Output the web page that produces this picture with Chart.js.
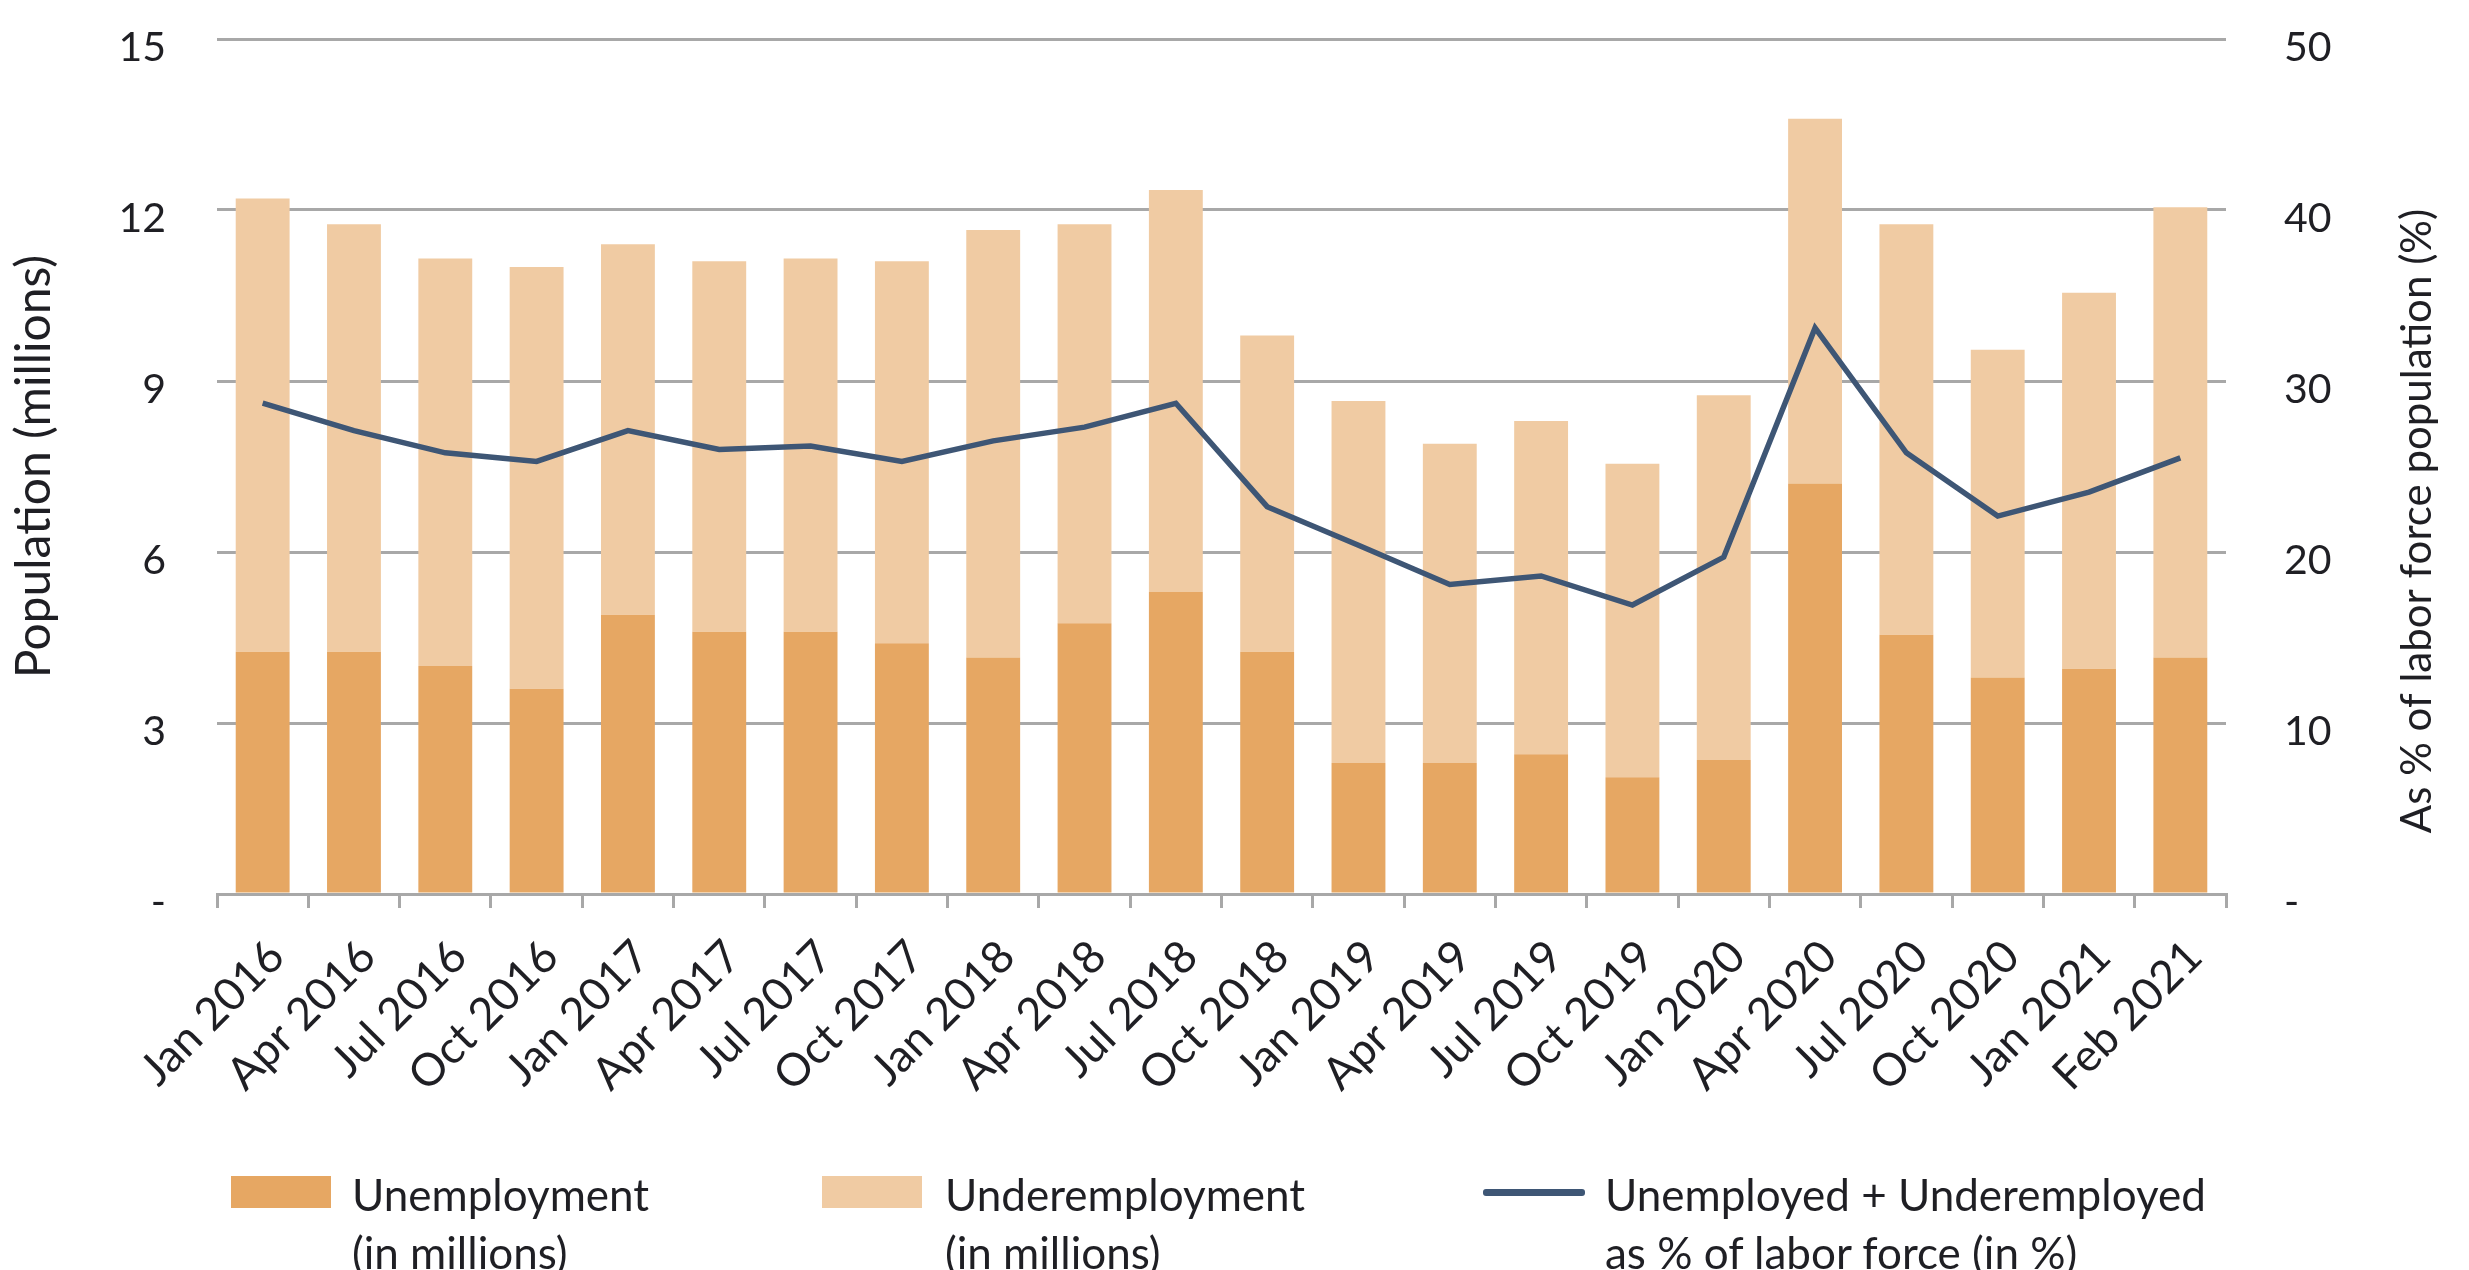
<!DOCTYPE html>
<html>
<head>
<meta charset="utf-8">
<script src="https://cdn.jsdelivr.net/npm/chart.js@4.4.1/dist/chart.umd.min.js"></script>
<style>
  html, body { margin: 0; padding: 0; background: #ffffff; }
  #wrap { position: relative; width: 2469px; height: 1270px; overflow: hidden; }
  canvas { position: absolute; left: 0; top: 0; }
  .leg { position: absolute; font-family: Lato, "Open Sans", sans-serif; font-size: 44px; line-height: 58px; color: #1f1f24; white-space: nowrap; }
  .sw { position: absolute; }
</style>
</head>
<body>
<div id="wrap">
  <canvas id="c" width="2469" height="1270"></canvas>
  <div class="sw" style="left:231px; top:1176px; width:100px; height:32px; background:#E6A763;"></div>
  <div class="leg" style="left:352px; top:1165px;">Unemployment<br>(in millions)</div>
  <div class="sw" style="left:822px; top:1176px; width:100px; height:32px; background:#F0CBA3;"></div>
  <div class="leg" style="left:945px; top:1165px;">Underemployment<br>(in millions)</div>
  <div class="sw" style="left:1483px; top:1189px; width:102px; height:7px; background:#3E5675; border-radius:3px;"></div>
  <div class="leg" style="left:1605px; top:1165px;">Unemployed + Underemployed<br>as % of labor force (in %)</div>
</div>
<script>
const categories = ["Jan 2016","Apr 2016","Jul 2016","Oct 2016","Jan 2017","Apr 2017","Jul 2017","Oct 2017",
  "Jan 2018","Apr 2018","Jul 2018","Oct 2018","Jan 2019","Apr 2019","Jul 2019","Oct 2019",
  "Jan 2020","Apr 2020","Jul 2020","Oct 2020","Jan 2021","Feb 2021"];
const unemployment = [4.25,4.25,4.0,3.6,4.9,4.6,4.6,4.4,4.15,4.75,5.3,4.25,2.3,2.3,2.45,2.05,2.35,7.2,4.55,3.8,3.95,4.15];
const underemployment = [7.95,7.5,7.15,7.4,6.5,6.5,6.55,6.7,7.5,7.0,7.05,5.55,6.35,5.6,5.85,5.5,6.4,6.4,7.2,5.75,6.6,7.9];
const ratePct = [28.7,27.1,25.8,25.3,27.1,26.0,26.2,25.3,26.5,27.3,28.7,22.65,20.4,18.1,18.6,16.9,19.7,33.1,25.8,22.1,23.5,25.5];
const leftTicks = [0,3,6,9,12,15];
const rightTicks = [0,10,20,30,40,50];

const FONT = 'Lato, "Open Sans", sans-serif';
const TXT = '#1f1f24';
const GRID = '#a8a8a8';

const rightTitlePlugin = {
  id: 'rightTitle',
  afterDraw(chart) {
    const ctx = chart.ctx;
    ctx.save();
    ctx.translate(2417, 521);
    ctx.rotate(-Math.PI / 2);
    ctx.font = '42px ' + FONT;
    ctx.fillStyle = TXT;
    ctx.textAlign = 'center';
    ctx.textBaseline = 'middle';
    ctx.fillText('As % of labor force population (%)', 0, 0);
    ctx.restore();
  }
};

new Chart(document.getElementById('c'), {
  data: {
    labels: categories,
    datasets: [
      { type: 'line', label: 'Unemployed + Underemployed as % of labor force (in %)', data: ratePct,
        yAxisID: 'y1', borderColor: '#3E5675', borderWidth: 5.5, pointRadius: 0, tension: 0, order: 0 },
      { type: 'bar', label: 'Unemployment (in millions)', data: unemployment, yAxisID: 'y',
        backgroundColor: '#E6A763', stack: 's', order: 1, categoryPercentage: 1, barPercentage: 0.59 },
      { type: 'bar', label: 'Underemployment (in millions)', data: underemployment, yAxisID: 'y',
        backgroundColor: '#F0CBA3', stack: 's', order: 2, categoryPercentage: 1, barPercentage: 0.59 }
    ]
  },
  options: {
    responsive: false,
    animation: false,
    devicePixelRatio: 1,
    layout: { padding: { top: 39, left: 0, right: 0, bottom: 0 } },
    plugins: { legend: { display: false }, tooltip: { enabled: false } },
    scales: {
      x: {
        stacked: true,
        grid: { drawOnChartArea: false, drawTicks: true, tickLength: 14, color: GRID, lineWidth: 3, offset: true },
        border: { display: true, color: GRID, width: 3 },
        ticks: { maxRotation: 45, minRotation: 45, autoSkip: false, padding: 22, labelOffset: 14,
                 font: { size: 45, family: FONT }, color: TXT },
        afterFit(scale) { scale.height = 376; }
      },
      y: {
        position: 'left', stacked: true, min: 0, max: 15,
        afterBuildTicks(scale) { scale.ticks = leftTicks.map(v => ({ value: v })); },
        ticks: { font: { size: 41, family: FONT }, color: TXT, padding: 0, labelOffset: 9,
                 callback: v => v === 0 ? '-' : String(v) },
        grid: { color: GRID, lineWidth: 3, drawTicks: true, tickLength: 51, tickColor: 'rgba(0,0,0,0)' },
        border: { display: false },
        title: { display: true, text: 'Population (millions)', font: { size: 48, family: FONT }, color: TXT, padding: 6 },
        afterFit(scale) { scale.width = 217; }
      },
      y1: {
        position: 'right', min: 0, max: 50,
        afterBuildTicks(scale) { scale.ticks = rightTicks.map(v => ({ value: v })); },
        ticks: { font: { size: 41, family: FONT }, color: TXT, padding: 0, labelOffset: 9,
                 callback: v => v === 0 ? '-' : String(v) },
        grid: { drawOnChartArea: false, drawTicks: true, tickLength: 58, tickColor: 'rgba(0,0,0,0)' },
        border: { display: false },
        afterFit(scale) { scale.width = 243; }
      }
    }
  },
  plugins: [rightTitlePlugin]
});
</script>
</body>
</html>
